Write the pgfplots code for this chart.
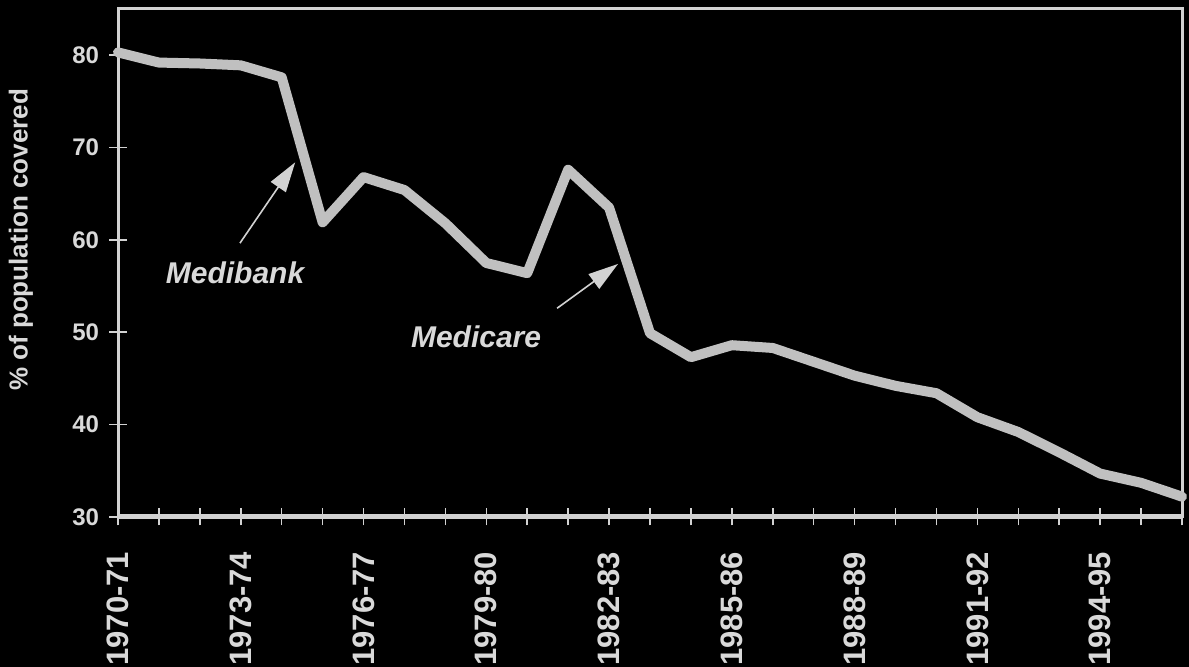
\documentclass[border=0pt]{standalone}
\usepackage{fontspec}
\setmainfont{Liberation Sans}
\usepackage{pgfplots}
\pgfplotsset{compat=1.18}
\usetikzlibrary{arrows.meta}
\definecolor{txtgray}{RGB}{217,217,217}
\definecolor{linegray}{RGB}{192,192,192}
\definecolor{axgray}{RGB}{210,210,210}
\begin{document}
\begin{tikzpicture}
\fill[black] (0,0) rectangle (594.5pt,333.5pt);
\begin{axis}[
  at={(59pt,75pt)}, anchor=south west,
  scale only axis, width=532pt, height=254pt,
  xmin=0, xmax=26, ymin=30, ymax=85,
  clip=false,
  axis line style={axgray, line width=1.5pt},
  xtick={0,...,26},
  xticklabels={1970-71,,,1973-74,,,1976-77,,,1979-80,,,1982-83,,,1985-86,,,1988-89,,,1991-92,,,1994-95,,},
  ytick={30,40,50,60,70,80},
  tick align=center,
  major tick length=8.5pt,
  tick style={axgray, line width=0.8pt},
  minor tick num=0,
  xtick pos=bottom, ytick pos=left,
  /pgf/number format/assume math mode=true,
  xticklabel style={rotate=90, anchor=east, font=\fontsize{15.5}{16}\selectfont\bfseries, text=txtgray, inner sep=0pt, xshift=-13pt},
  yticklabel style={font=\fontsize{12}{13}\selectfont\bfseries, text=txtgray, inner sep=0pt, xshift=-5pt},
]
\draw[axgray, line width=2.5pt] (rel axis cs:0,0) -- (rel axis cs:1,0);
\addplot[linegray, line width=5pt, line cap=round, line join=round] coordinates {
(0,80.3) (1,79.2) (2,79.1) (3,78.9) (4,77.6) (5,61.9) (6,66.8) (7,65.4) (8,61.8)
(9,57.5) (10,56.4) (11,67.6) (12,63.5) (13,49.9) (14,47.3) (15,48.6) (16,48.3)
(17,46.8) (18,45.3) (19,44.2) (20,43.4) (21,40.8) (22,39.2) (23,37.0) (24,34.7)
(25,33.7) (26,32.2)
};
\draw[axgray, line width=0.8pt, -{Triangle[length=15pt,width=9pt]}] (axis cs:2.98,59.65) -- (axis cs:4.33,68.4);
\draw[axgray, line width=0.8pt, -{Triangle[length=15pt,width=9pt]}] (axis cs:10.73,52.6) -- (axis cs:12.22,57.4);
\node[anchor=base, text=txtgray, font=\fontsize{15}{16}\selectfont\bfseries\itshape, inner sep=0pt] at (axis cs:2.86,55.3) {Medibank};
\node[anchor=base, text=txtgray, font=\fontsize{15}{16}\selectfont\bfseries\itshape, inner sep=0pt] at (axis cs:8.75,48.4) {Medicare};
\end{axis}
\node[rotate=90, text=txtgray, font=\fontsize{13}{14}\selectfont\bfseries, inner sep=0pt] at (10.5pt,213.5pt) {\% of population covered};
\pgfresetboundingbox
\path[use as bounding box] (0,0) rectangle (594.5pt,333.5pt);
\end{tikzpicture}
\end{document}
